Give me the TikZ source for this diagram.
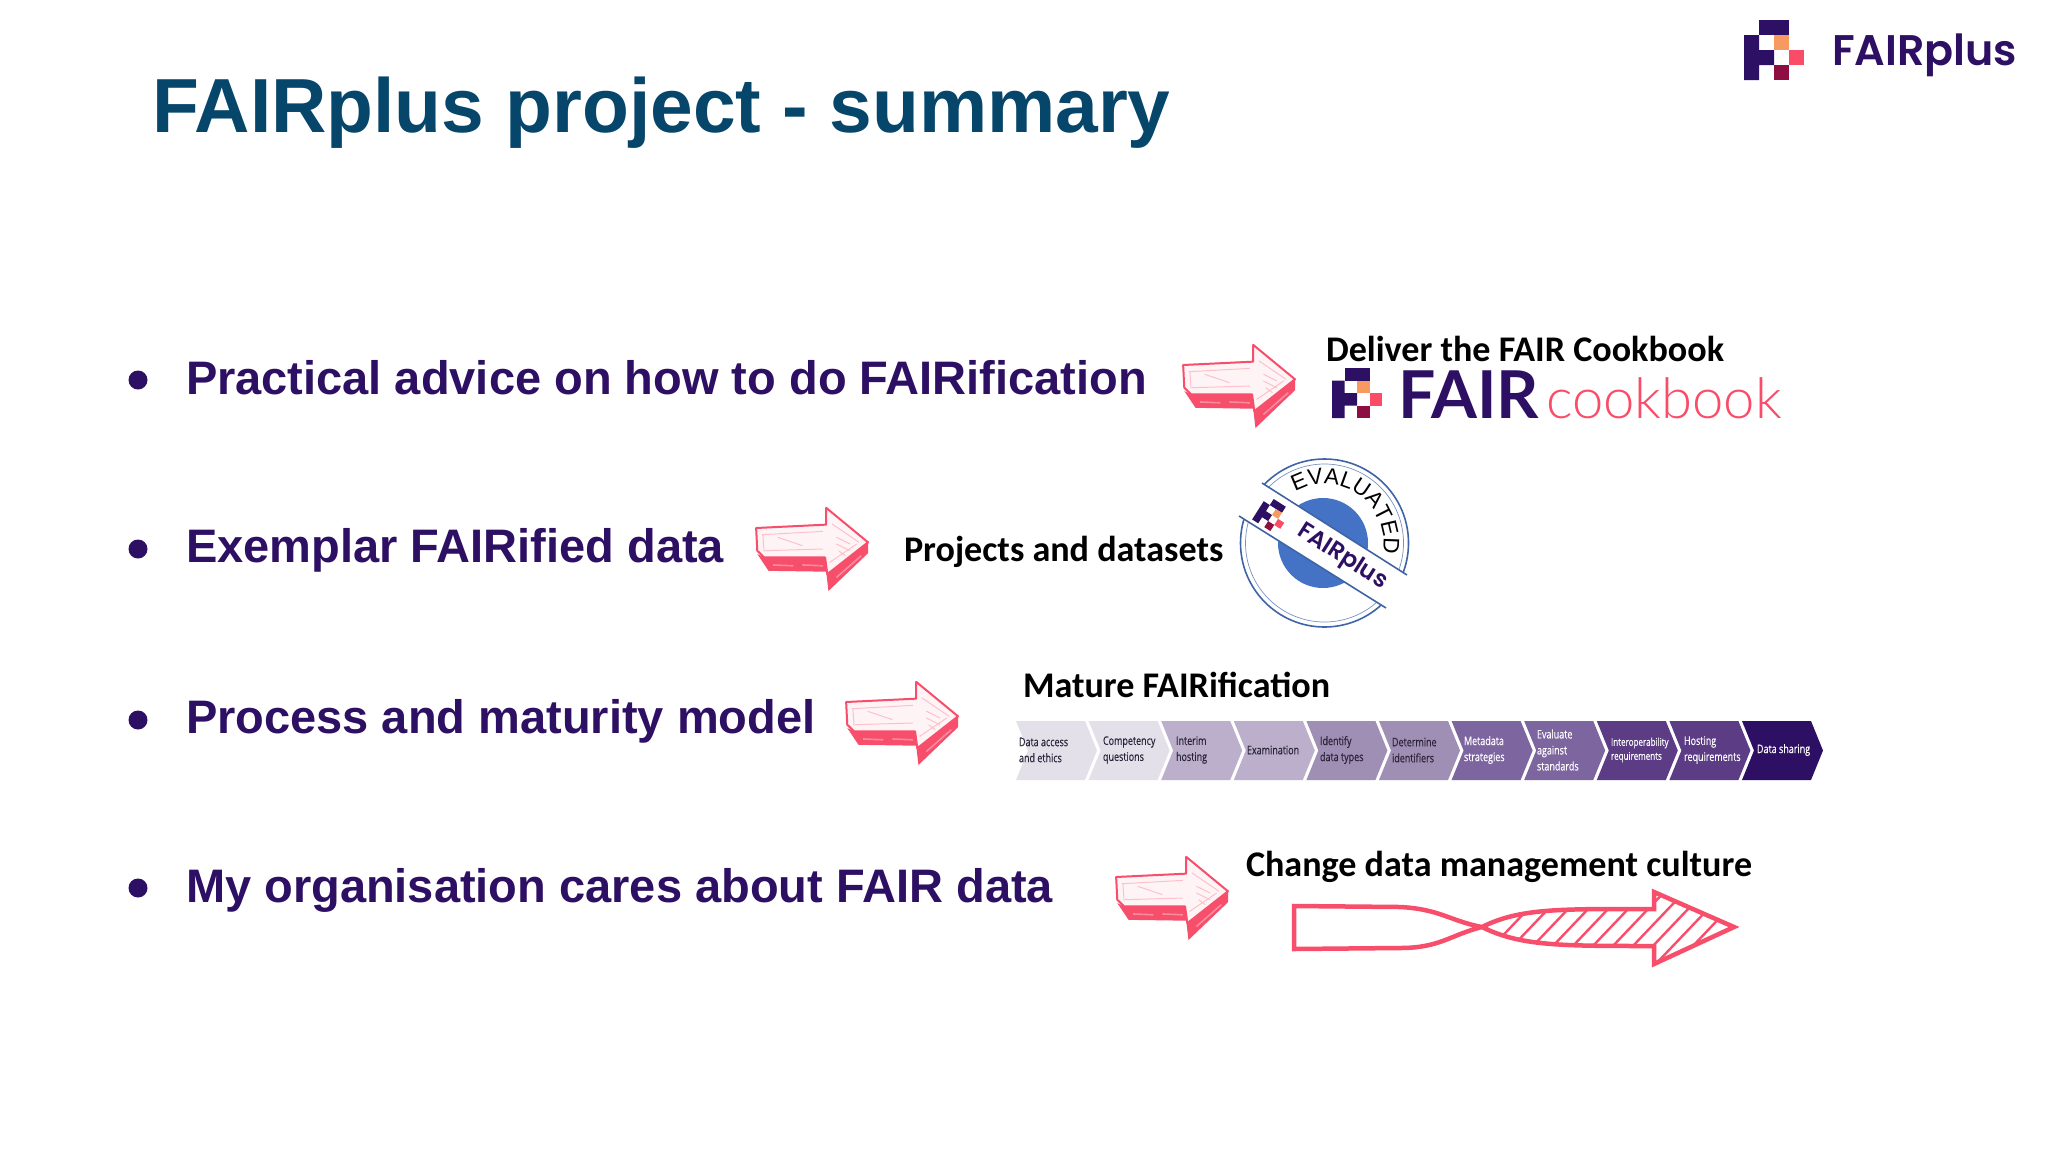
\documentclass[tikz,border=0pt]{standalone}
\usepackage{fontspec}
\usetikzlibrary{decorations.text}
\setmainfont{Liberation Sans}
\newfontfamily\cbfont{Carlito}
\newfontfamily\popfont{Poppins}[UprightFont=* SemiBold]
\newfontfamily\latofont{Lato}
\newfontfamily\latolight{Lato}[UprightFont=* Light]
\newfontfamily\chevfont{Open Sans}[FakeStretch=0.76,FakeBold=0.25]
\definecolor{fpdark}{HTML}{2D0F63}
\definecolor{fporange}{HTML}{F79A62}
\definecolor{fppink}{HTML}{FA4B68}
\definecolor{fpmaroon}{HTML}{8E0E42}
\definecolor{titleblue}{HTML}{06466B}
\definecolor{stampblue}{HTML}{4472C4}
\definecolor{stampline}{HTML}{3F64A6}
\definecolor{redline}{HTML}{F64E6B}
\definecolor{arrowpale}{HTML}{FFF4F5}
\definecolor{chA}{HTML}{E3E0EA}
\definecolor{chB}{HTML}{BBAFCB}
\definecolor{chC}{HTML}{A08FB4}
\definecolor{chD}{HTML}{7D659F}
\definecolor{chE}{HTML}{5B3C85}
\definecolor{chtext}{HTML}{2A2438}
\newcommand\fplogo[4]{%
  \begin{scope}[shift={(#1,#2)},rotate=#4,x=#3pt,y=-#3pt,shift={(-2,-2)}]
    \fill[fpdark] (1,0)--(3,0)--(3,1)--(1,1)--cycle;
    \fill[fpdark] (0,1)--(1,1)--(1,2)--(2,2)--(2,3)--(1,3)--(1,4)--(0,4)--cycle;
    \fill[fporange] (2,1) rectangle (3,2);
    \fill[fppink] (3,2) rectangle (4,3);
    \fill[fpmaroon] (2,3) rectangle (3,4);
  \end{scope}}
\newcommand\sketcharrow[2]{%
  \begin{scope}[shift={(#1,#2)},x=113pt,y=-84pt,line join=round]
    % extruded underside
    \fill[redline] (.02,.56)--(.12,.76)--(.63,.77)--(.65,1)--(1,.55)--(1,.42)--(.64,.80)--(.62,.60)--(.08,.60)--cycle;
    \draw[white,opacity=.35,line width=1.6pt] (.16,.69)--(.34,.70) (.42,.69)--(.6,.70) (.72,.84)--(.94,.58);
    % front face
    \draw[redline,line width=2pt,fill=arrowpale] (.01,.25)--(.63,.21)--(.63,.01)--(1,.42)--(.64,.80)--(.62,.60)--(.08,.60)--(.02,.52)--cycle;
    % sketch strokes
    \draw[redline!35,line width=1pt] (.06,.33)--(.6,.29) (.07,.33)--(.08,.53) (.09,.52)--(.6,.50) (.68,.2)--(.92,.42) (.66,.66)--(.9,.44)
      (.2,.36)--(.42,.46) (.72,.36)--(.84,.44) (.72,.44)--(.84,.52) (.74,.52)--(.8,.58);
  \end{scope}}
\tikzset{
  txt/.style={anchor=base west,inner sep=0pt,outer sep=0pt},
  bul/.style={txt,text=fpdark,font=\bfseries\fontsize{47}{47}\selectfont},
  lab/.style={txt,text=black,font=\cbfont\bfseries\fontsize{36.1}{36.1}\selectfont},
  chev/.style={anchor=west,inner sep=0pt,outer sep=0pt,align=left,font=\chevfont\fontsize{11.8}{16}\selectfont},
  dot/.style={circle,fill=fpdark,minimum size=19pt,inner sep=0pt},
  twist/.style={draw=redline,line width=4.5pt,line join=miter,line cap=round},
}
\newcommand\chevshape[2]{% start x, colour
  \fill[#2] (#1,721)--++(69,0)--++(12,29.5)--++(-12,29.5)--++(-69,0)--++(12,-29.5)--cycle;}
\begin{document}
\begin{tikzpicture}[x=1pt,y=-1pt]
\useasboundingbox (0,0) rectangle (2048,1152);
\fill[white] (0,0) rectangle (2048,1152);
% header
\node[txt,text=titleblue,font=\bfseries\fontsize{76.7}{77}\selectfont] (title) at (152,132) {FAIRplus project - summary};
\fplogo{1774}{50}{15}{0}
\node[txt,text=fpdark,font=\popfont\fontsize{42.8}{44}\selectfont] (logotext) at (1832,65) {FAIRplus};
% bullets
\node[dot] (b1) at (138,380) {};
\node[dot] (b2) at (138,549) {};
\node[dot] (b3) at (138,720) {};
\node[dot] (b4) at (138,888) {};
\node[bul] (t1) at (186,394) {Practical advice on how to do FAIRification};
\node[bul] (t2) at (186,562) {Exemplar FAIRified data};
\node[bul] (t3) at (186,733) {Process and maturity model};
\node[bul] (t4) at (186,902) {My organisation cares about FAIR data};
% arrows
\sketcharrow{1182}{344}
\sketcharrow{755}{507}
\sketcharrow{845}{681}
\sketcharrow{1115}{856}
% row 1
\node[lab] (l1) at (1326,361) {Deliver the FAIR Cookbook};
\fplogo{1357}{393}{12.5}{0}
\node[txt,text=fpdark,font=\latofont\bfseries\fontsize{66}{66}\selectfont] (fair) at (1398,418) {FAIR};
\node[txt,text=fppink,font=\latolight\fontsize{56.2}{56}\selectfont] (cook) at (1546,418) {cookbook};
% row 2
\node[lab] (l2) at (904,561) {Projects and datasets};
\draw[stampline,line width=1.6pt] (1324.5,543) circle (84);
\draw[stampline!70,line width=.7pt] (1324.5,543) circle (79);
\fill[stampblue] (1323,543) circle (45);
\path[decorate,decoration={text along path,text align=center,
  text={|\fontsize{22.5}{23}\selectfont|EVALUATED}}]
  (1324.5,543) ++(-118:59) arc[start angle=-118,end angle=8,radius=59];
\fill[white] (1262,483)--(1407,575)--(1386,608)--(1239,516)--cycle;
\draw[stampline,line width=1.6pt] (1262,483)--(1407,575);
\draw[stampline,line width=1.6pt] (1239,516)--(1386,608);
\fplogo{1272}{515}{7.2}{-32.5}
\node[anchor=center,inner sep=0pt,text=fpdark,rotate=-32.5,font=\popfont\fontsize{23.5}{24}\selectfont] (stamptext) at (1342,557) {FAIRplus};
% row 3
\node[lab] (l3) at (1023,697) {Mature FAIRification};
\chevshape{1016}{chA}
\chevshape{1088.6}{chA}
\chevshape{1161.2}{chB}
\chevshape{1233.8}{chB}
\chevshape{1306.4}{chC}
\chevshape{1379}{chC}
\chevshape{1451.6}{chD}
\chevshape{1524.2}{chD}
\chevshape{1596.8}{chE}
\chevshape{1669.4}{chE}
\chevshape{1742}{fpdark}
\node[chev,text=chtext] (c1) at (1019,750) {Data access\\and ethics};
\node[chev,text=chtext] (c2) at (1103,750) {Competency\\questions};
\node[chev,text=chtext] (c3) at (1176,750) {Interim\\hosting};
\node[chev,text=chtext] (c4) at (1247,750) {Examination};
\node[chev,text=chtext] (c5) at (1320,750) {Identify\\data types};
\node[chev,text=chtext] (c6) at (1392,750) {Determine\\identifiers};
\node[chev,text=white] (c7) at (1464,750) {Metadata\\strategies};
\node[chev,text=white] (c8) at (1537,750) {Evaluate\\against\\standards};
\node[chev,text=white,font=\chevfont\fontsize{10.6}{14}\selectfont] (c9) at (1611,750) {Interoperability\\requirements};
\node[chev,text=white] (c10) at (1684,750) {Hosting\\requirements};
\node[chev,text=white] (c11) at (1757,750) {Data sharing};
% row 4
\node[lab] (l4) at (1246,876) {Change data management culture};
\begin{scope}
  \clip (1482,927) .. controls (1520,908) and (1560,909) .. (1654,909)--(1654,892)--(1734,927)--(1654,964)--(1654,946) .. controls (1560,946) and (1520,946) .. (1482,927)--cycle;
  \foreach \hx in {1470,1490,...,1730}{
    \draw[redline,line width=2.4pt] (\hx,970)--(\hx+80,886);
  }
\end{scope}
\draw[twist] (1294,906)--(1400,907) .. controls (1440,909) and (1450,921) .. (1482,927) .. controls (1520,946) and (1560,946) .. (1654,946)--(1654,964)--(1734,927)--(1654,892)--(1654,909) .. controls (1560,909) and (1520,908) .. (1482,927) .. controls (1450,935) and (1440,948) .. (1400,948)--(1294,949)--cycle;
\end{tikzpicture}
\end{document}
